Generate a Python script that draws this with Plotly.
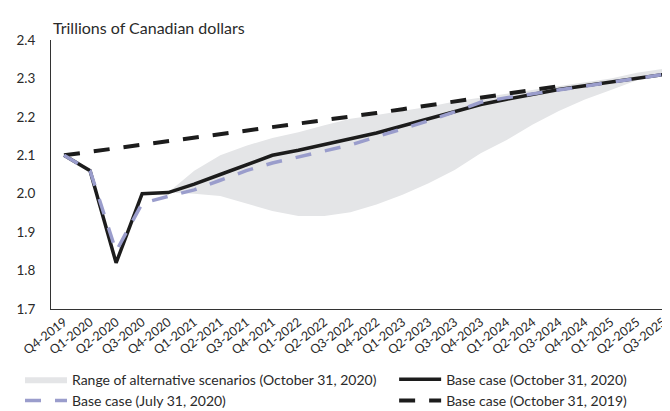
import plotly.graph_objects as go

quarters = ["Q4-2019", "Q1-2020", "Q2-2020", "Q3-2020", "Q4-2020",
            "Q1-2021", "Q2-2021", "Q3-2021", "Q4-2021",
            "Q1-2022", "Q2-2022", "Q3-2022", "Q4-2022",
            "Q1-2023", "Q2-2023", "Q3-2023", "Q4-2023",
            "Q1-2024", "Q2-2024", "Q3-2024", "Q4-2024",
            "Q1-2025", "Q2-2025", "Q3-2025"]

base_oct2020 = [2.10, 2.06, 1.82, 2.00, 2.003, 2.025, 2.05, 2.075, 2.10,
                2.113, 2.127, 2.143, 2.158, 2.177, 2.195, 2.215, 2.232,
                2.246, 2.259, 2.271, 2.281, 2.291, 2.300, 2.310]

base_jul2020 = [2.10, 2.06, 1.85, 1.975, 1.993, 2.01, 2.035, 2.06, 2.08,
                2.095, 2.11, 2.127, 2.148, 2.168, 2.19, 2.213, 2.238,
                2.25, 2.26, 2.27, 2.28, 2.29, 2.30, 2.31]

base_oct2019 = [2.10, 2.109, 2.118, 2.127, 2.136, 2.145, 2.154, 2.163, 2.172,
                2.181, 2.19, 2.20, 2.21, 2.22, 2.23, 2.24, 2.25,
                2.26, 2.27, 2.28]

range_quarters = quarters[4:]
range_upper = [2.003, 2.06, 2.10, 2.125, 2.145, 2.16, 2.178, 2.195, 2.205,
               2.215, 2.226, 2.24, 2.25, 2.26, 2.27, 2.28, 2.29, 2.30,
               2.315, 2.325]
range_lower = [2.003, 2.0, 1.994, 1.975, 1.955, 1.942, 1.942, 1.952, 1.972,
               1.997, 2.027, 2.062, 2.105, 2.14, 2.18, 2.215, 2.245, 2.27,
               2.295, 2.31]

y_ticks = [1.7, 1.8, 1.9, 2.0, 2.1, 2.2, 2.3, 2.4]

BLACK = "#1c1c1c"
BLUE = "#9a9dcc"
GREY = "#e4e5e7"
FONT = "Lato"

fig = go.Figure()

fig.add_trace(go.Scatter(x=range_quarters, y=range_lower, mode="lines",
                         line=dict(width=0, color=GREY), showlegend=False,
                         hoverinfo="skip"))
fig.add_trace(go.Scatter(x=range_quarters, y=range_upper, mode="lines",
                         line=dict(width=0, color=GREY), fill="tonexty",
                         fillcolor=GREY, legend="legend", legendgroup="a",
                         name="Range of alternative scenarios (October 31, 2020)",
                         legendrank=1))
fig.add_trace(go.Scatter(x=quarters[:len(base_oct2019)], y=base_oct2019, mode="lines",
                         line=dict(width=4, color=BLACK, dash="16px,14px"),
                         legend="legend2", legendgroup="d",
                         name="Base case (October 31, 2019)", legendrank=2))
fig.add_trace(go.Scatter(x=quarters, y=base_oct2020, mode="lines",
                         line=dict(width=3.5, color=BLACK),
                         legend="legend2", legendgroup="b",
                         name="Base case (October 31, 2020)", legendrank=1))
fig.add_trace(go.Scatter(x=quarters, y=base_jul2020, mode="lines",
                         line=dict(width=3.5, color=BLUE, dash="16px,14px"),
                         legend="legend", legendgroup="c",
                         name="Base case (July 31, 2020)", legendrank=2))

leg_common = dict(orientation="v", yanchor="top", y=-0.203, xanchor="left",
                  traceorder="normal", font=dict(size=14), tracegroupgap=5,
                  itemwidth=42, bgcolor="rgba(0,0,0,0)")

fig.update_layout(
    width=670, height=411,
    margin=dict(l=43, r=2, t=32, b=103),
    paper_bgcolor="white", plot_bgcolor="white",
    font=dict(family=FONT, size=14, color="#2a2a2a"),
    xaxis=dict(type="category", categoryorder="array", categoryarray=quarters,
               range=[-0.5, len(quarters) - 0.5],
               showline=True, linecolor="#333", linewidth=1,
               showgrid=False, ticks="", tickangle=-38,
               tickfont=dict(size=12.5), zeroline=False),
    yaxis=dict(range=[1.7, 2.4], tickvals=y_ticks, tickformat=".1f",
               showline=True, linecolor="#333", linewidth=1,
               showgrid=False, ticks="", zeroline=False,
               tickfont=dict(size=13.5), ticklabelstandoff=12),
    legend=dict(x=-0.0496, **leg_common),
    legend2=dict(x=0.549, **leg_common),
    annotations=[dict(text="Trillions of Canadian dollars", xref="paper", yref="paper",
                      x=0.0, y=1.047, xanchor="left", yanchor="middle",
                      showarrow=False, font=dict(size=16, color="#2a2a2a"))],
)

fig.write_html("out.html")
